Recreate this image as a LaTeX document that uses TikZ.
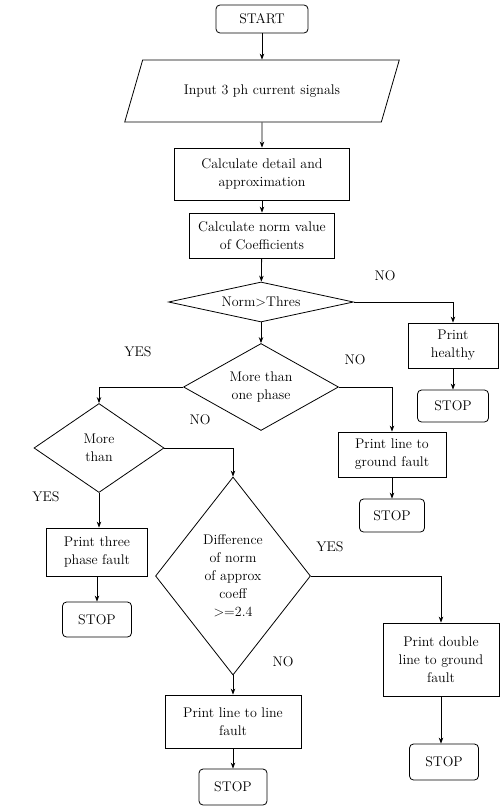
\documentclass[tikz,border=0pt]{standalone}
\usetikzlibrary{shapes.geometric,arrows.meta}
\begin{document}
\begin{tikzpicture}[x=1pt,y=-1pt,
  every node/.style={font=\fontsize{14}{18}\selectfont},
  box/.style={draw,rectangle,align=center,inner sep=1pt,line width=0.8pt},
  stopbox/.style={draw,rectangle,rounded corners=4pt,align=center,inner sep=1pt,line width=0.8pt},
  dia/.style={draw,diamond,align=center,inner sep=0pt,line width=0.8pt},
  conn/.style={line width=0.8pt,-{Stealth[length=6pt,width=4.5pt]}}]
\useasboundingbox (0,0) rectangle (500,808);

% top column
\node[stopbox,minimum width=92pt,minimum height=28pt] (start) at (262,19) {START};
\node[draw,trapezium,trapezium left angle=47,trapezium right angle=133,trapezium stretches=true,
      minimum width=275pt,minimum height=62pt,inner sep=0pt,line width=0.8pt] (input) at (262,91) {Input 3 ph current signals};
\node[box,minimum width=175pt,minimum height=52pt] (calc1) at (262,174) {Calculate detail and\\approximation};
\node[box,minimum width=145pt,minimum height=45pt] (calc2) at (262,235.5) {Calculate norm value\\of Coefficients};
\node[dia,aspect=4.6,minimum width=185pt,minimum height=40pt] (thres) at (261,302) {Norm>Thres};
\node[dia,aspect=1.78,minimum width=155pt,minimum height=87pt] (phase) at (261,387) {More than\\one phase};

% right branch
\node[box,minimum width=90pt,minimum height=45pt] (healthy) at (453,345.5) {Print\\healthy};
\node[stopbox,minimum width=71pt,minimum height=32pt] (stop1) at (453,406) {STOP};
\node[box,minimum width=108pt,minimum height=45pt] (lgf) at (392,454.5) {Print line to\\ground fault};
\node[stopbox,minimum width=65pt,minimum height=33pt] (stop2) at (392,515.5) {STOP};

% left branch
\node[dia,aspect=1.46,minimum width=130pt,minimum height=89pt] (mt) at (99,448) {More\\than};
\node[box,minimum width=101pt,minimum height=48pt] (three) at (97,552) {Print three\\phase fault};
\node[stopbox,minimum width=69pt,minimum height=35pt] (stop3) at (97,619.5) {STOP};

% middle branch
\node[dia,aspect=0.78,minimum width=155pt,minimum height=198pt] (diff) at (233,576) {Difference\\of norm\\of approx\\coeff\\>=2.4};
\node[box,minimum width=136pt,minimum height=53pt] (ll) at (233,721.5) {Print line to line\\fault};
\node[stopbox,minimum width=68pt,minimum height=36pt] (stop4) at (233,787) {STOP};
\node[box,minimum width=116pt,minimum height=73pt] (dlg) at (441,659.5) {Print double\\line to ground\\fault};
\node[stopbox,minimum width=69pt,minimum height=36pt] (stop5) at (444,762) {STOP};

% labels
\node (l1) at (385,276) {NO};
\node (l2) at (138,352) {YES};
\node (l3) at (355,360) {NO};
\node (l4) at (200,420) {NO};
\node (l5) at (46,497) {YES};
\node (l6) at (330,547) {YES};
\node (l7) at (283,662) {NO};

% connectors
\draw[conn] (start) -- (input);
\draw[conn] (input) -- (calc1);
\draw[conn] (calc1) -- (calc2);
\draw[conn] (calc2) -- (thres);
\draw[conn] (thres.east) -| (healthy.north);
\draw[conn] (healthy) -- (stop1);
\draw[conn] (thres.south) -- (phase.north);
\draw[conn] (phase.east) -| (lgf.north);
\draw[conn] (lgf) -- (stop2);
\draw[conn] (phase.west) -| (mt.north);
\draw[conn] (mt.east) -| (diff.north);
\draw[conn] (mt.south) -- (mt.south |- three.north);
\draw[conn] (three) -- (stop3);
\draw[conn] (diff.east) -| (dlg.north);
\draw[conn] (diff.south) -- (ll.north);
\draw[conn] (ll) -- (stop4);
\draw[conn] (dlg.south) -- (dlg.south |- stop5.north);
\end{tikzpicture}
\end{document}
